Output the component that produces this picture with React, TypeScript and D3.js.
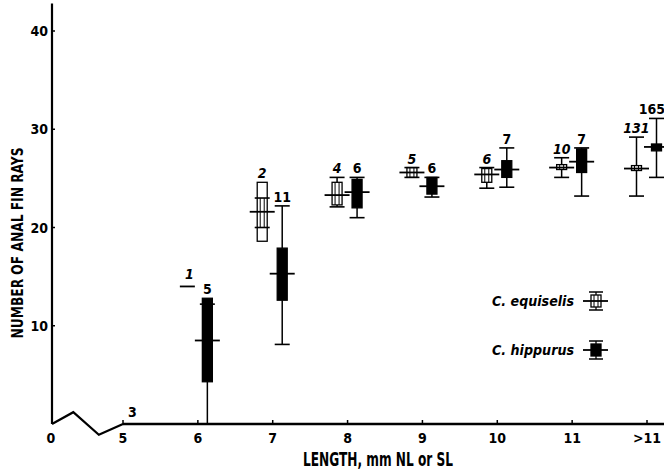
import { useEffect, useRef } from "react";
import * as d3 from "d3";

// length classes (mm NL or SL); ">11" sits at position 12
const lengthLabels = ["5", "6", "7", "8", "9", "10", "11", ">11"];
const lengthPos = [5, 6, 7, 8, 9, 10, 11, 12];
const yTicks = [10, 20, 30, 40];

// axis break between 0 and 5 (data units)
const breakX = [0, 1.5, 3.3, 5];
const breakY = [0, 1.2, -1.1, 0];

// C. equiselis (open symbols)
const eqN = [null, 1, 2, 4, 5, 6, 10, 131];
const eqMean = [null, 14.0, 21.6, 23.3, 25.6, 25.4, 26.1, 26.0];
const eqMin = [null, null, 20.0, 22.1, 25.1, 24.0, 25.1, 23.2];
const eqMax = [null, null, 23.0, 25.1, 26.1, 26.1, 27.1, 29.2];
const eqBoxLo = [null, null, 18.6, 22.3, 25.1, 24.6, 25.9, 25.8];
const eqBoxHi = [null, null, 24.6, 24.6, 26.1, 26.0, 26.4, 26.3];

// C. hippurus (filled symbols)
const hiN = [3, 5, 11, 6, 6, 7, 7, 165];
const hiMean = [0, 8.5, 15.3, 23.6, 24.2, 25.9, 26.7, 28.2];
const hiMin = [null, 0, 8.1, 21.0, 23.1, 24.1, 23.2, 25.1];
const hiMax = [null, 12.2, 22.2, 25.1, 25.1, 28.1, 28.1, 31.1];
const hiBoxLo = [null, 4.3, 12.6, 22.0, 23.4, 25.1, 25.6, 27.8];
const hiBoxHi = [null, 12.8, 17.9, 24.9, 25.1, 26.8, 28.0, 28.5];

type Glyph = {
  n: number | null;
  mean: number | null;
  min: number | null;
  max: number | null;
  lo: number | null;
  hi: number | null;
};

const FONT = "'Liberation Sans Narrow', 'DejaVu Sans Condensed', sans-serif";

export default function App() {
  const svgRef = useRef<SVGSVGElement>(null);

  useEffect(() => {
    if (!svgRef.current) return;
    const width = 664;
    const left = 52;

    const svg = d3.select(svgRef.current);
    svg.selectAll("*").remove();

    const x = d3.scaleLinear().domain([5, 12]).range([123, 647]);
    const xb = d3.scaleLinear().domain([0, 5]).range([left, 123]);
    const y = d3.scaleLinear().domain([0, 40]).range([424, 31]);

    // axes
    svg.append("line")
      .attr("x1", left).attr("x2", left)
      .attr("y1", y(42.8)).attr("y2", y(0))
      .attr("stroke", "#000").attr("stroke-width", 2.2);

    svg.append("path")
      .attr("d", d3.line<number>().x(d => xb(d)).y((d, i) => y(breakY[i]))(breakX))
      .attr("fill", "none").attr("stroke", "#000").attr("stroke-width", 2.2)
      .attr("stroke-linejoin", "miter");

    svg.append("line")
      .attr("x1", x(5)).attr("x2", width)
      .attr("y1", y(0)).attr("y2", y(0))
      .attr("stroke", "#000").attr("stroke-width", 2.4);

    svg.append("g")
      .selectAll("line")
      .data(lengthPos)
      .join("line")
      .attr("x1", d => x(d)).attr("x2", d => x(d))
      .attr("y1", y(0)).attr("y2", y(0) - 4)
      .attr("stroke", "#000").attr("stroke-width", 1.5);

    svg.append("g")
      .selectAll("line")
      .data(yTicks)
      .join("line")
      .attr("x1", left).attr("x2", left + 3)
      .attr("y1", d => y(d)).attr("y2", d => y(d))
      .attr("stroke", "#000").attr("stroke-width", 1.5);

    const tickText = (sel: d3.Selection<any, any, any, any>) =>
      sel.attr("font-family", FONT).attr("font-weight", "bold").attr("font-size", 14).attr("fill", "#000");

    svg.append("g")
      .selectAll("text")
      .data(yTicks)
      .join("text")
      .attr("x", left - 4)
      .attr("y", d => y(d))
      .attr("dy", "0.36em")
      .attr("text-anchor", "end")
      .text(d => d)
      .call(tickText);

    svg.append("text")
      .attr("x", left - 1).attr("y", 443)
      .attr("text-anchor", "middle")
      .text("0")
      .call(tickText);

    svg.append("g")
      .selectAll("text")
      .data(lengthPos)
      .join("text")
      .attr("x", d => x(d))
      .attr("y", 443)
      .attr("text-anchor", "middle")
      .text((d, i) => lengthLabels[i])
      .call(tickText);

    // axis titles
    svg.append("text")
      .attr("transform", `translate(23,${243}) rotate(-90)`)
      .attr("text-anchor", "middle")
      .attr("textLength", 191)
      .attr("lengthAdjust", "spacingAndGlyphs")
      .attr("font-family", FONT).attr("font-weight", "bold").attr("font-size", 16)
      .text("NUMBER OF ANAL FIN RAYS");

    svg.append("text")
      .attr("x", 303).attr("y", 466)
      .attr("textLength", 150)
      .attr("lengthAdjust", "spacingAndGlyphs")
      .attr("font-family", FONT).attr("font-weight", "bold").attr("font-size", 19)
      .text("LENGTH, mm NL or SL");

    // glyph drawing
    const drawGlyph = (
      g: d3.Selection<SVGGElement, unknown, null, undefined>,
      cx: number,
      d: Glyph,
      filled: boolean,
      italic: boolean
    ) => {
      const boxW = 10;
      const capW = 15;
      const meanW = 25;
      let top = d.mean != null ? y(d.mean) : y(0);
      if (d.lo != null && d.hi != null) {
        if (d.max != null && d.max > d.hi) {
          g.append("line").attr("x1", cx).attr("x2", cx).attr("y1", y(d.max)).attr("y2", y(d.hi))
            .attr("stroke", "#000").attr("stroke-width", 1.5);
        }
        if (d.min != null && d.min < d.lo) {
          g.append("line").attr("x1", cx).attr("x2", cx).attr("y1", y(d.lo)).attr("y2", y(d.min))
            .attr("stroke", "#000").attr("stroke-width", 1.5);
        }
        g.append("rect")
          .attr("x", cx - boxW / 2).attr("width", boxW)
          .attr("y", y(d.hi)).attr("height", Math.max(1, y(d.lo) - y(d.hi)))
          .attr("fill", filled ? "#000" : "#fff")
          .attr("stroke", "#000").attr("stroke-width", 1.3);
        if (!filled && d.min != null && d.max != null) {
          const a = Math.max(d.min, d.lo);
          const b = Math.min(d.max, d.hi);
          [-2, 2].forEach(off => {
            g.append("line")
              .attr("x1", cx + off).attr("x2", cx + off)
              .attr("y1", y(b)).attr("y2", y(a))
              .attr("stroke", "#000").attr("stroke-width", 1);
          });
        }
        top = Math.min(top, y(d.hi));
      }
      [d.min, d.max].forEach(v => {
        if (v == null) return;
        g.append("line")
          .attr("x1", cx - capW / 2).attr("x2", cx + capW / 2)
          .attr("y1", y(v)).attr("y2", y(v))
          .attr("stroke", "#000").attr("stroke-width", 1.6);
        top = Math.min(top, y(v));
      });
      if (d.mean != null) {
        const w = d.lo == null ? 15 : meanW;
        g.append("line")
          .attr("x1", cx - w / 2).attr("x2", cx + w / 2)
          .attr("y1", y(d.mean)).attr("y2", y(d.mean))
          .attr("stroke", "#000").attr("stroke-width", 1.8);
      }
      if (d.n != null) {
        const lx = cx + (d.lo == null && italic ? 2 : 0);
        g.append("text")
          .attr("x", Math.min(lx, width - 12))
          .attr("y", top - (d.lo == null ? 7 : 4))
          .attr("text-anchor", "middle")
          .attr("font-family", FONT).attr("font-weight", "bold")
          .attr("font-style", italic ? "italic" : "normal")
          .attr("font-size", 14)
          .text(d.n);
      }
    };

    const marks = svg.append("g");
    lengthPos.forEach((p, i) => {
      if (eqN[i] != null) {
        drawGlyph(marks, x(p) - 10.5, {
          n: eqN[i], mean: eqMean[i], min: eqMin[i], max: eqMax[i], lo: eqBoxLo[i], hi: eqBoxHi[i],
        }, false, true);
      }
      drawGlyph(marks, x(p) + 9.5, {
        n: hiN[i], mean: hiMean[i], min: hiMin[i], max: hiMax[i], lo: hiBoxLo[i], hi: hiBoxHi[i],
      }, true, false);
    });

    // legend
    const legend = svg.append("g");
    const legendItems = [
      { label: "C. equiselis", filled: false, cy: 301 },
      { label: "C. hippurus", filled: true, cy: 350 },
    ];
    legendItems.forEach(item => {
      legend.append("text")
        .attr("x", 492).attr("y", item.cy + 5)
        .attr("textLength", 82)
        .attr("lengthAdjust", "spacingAndGlyphs")
        .attr("font-family", FONT).attr("font-weight", "bold").attr("font-style", "italic")
        .attr("font-size", 14)
        .text(item.label);
      const sx = 596;
      [-9, 9].forEach(off => {
        legend.append("line")
          .attr("x1", sx - 7).attr("x2", sx + 7)
          .attr("y1", item.cy + off).attr("y2", item.cy + off)
          .attr("stroke", "#000").attr("stroke-width", 1.5);
      });
      legend.append("line")
        .attr("x1", sx).attr("x2", sx)
        .attr("y1", item.cy - 9).attr("y2", item.cy + 9)
        .attr("stroke", "#000").attr("stroke-width", 1.3);
      legend.append("rect")
        .attr("x", sx - 5).attr("width", 10)
        .attr("y", item.cy - 6).attr("height", 12)
        .attr("fill", item.filled ? "#000" : "#fff")
        .attr("stroke", "#000").attr("stroke-width", 1.3);
      if (!item.filled) {
        [-2, 2].forEach(off => {
          legend.append("line")
            .attr("x1", sx + off).attr("x2", sx + off)
            .attr("y1", item.cy - 6).attr("y2", item.cy + 6)
            .attr("stroke", "#000").attr("stroke-width", 1);
        });
      }
      legend.append("line")
        .attr("x1", sx - 13).attr("x2", sx + 12)
        .attr("y1", item.cy).attr("y2", item.cy)
        .attr("stroke", "#000").attr("stroke-width", 1.8);
    });
  }, []);

  return (
    <svg
      ref={svgRef}
      width={664}
      height={473}
      style={{ position: "absolute", left: 0, top: 0, background: "#fff" }}
    />
  );
}
